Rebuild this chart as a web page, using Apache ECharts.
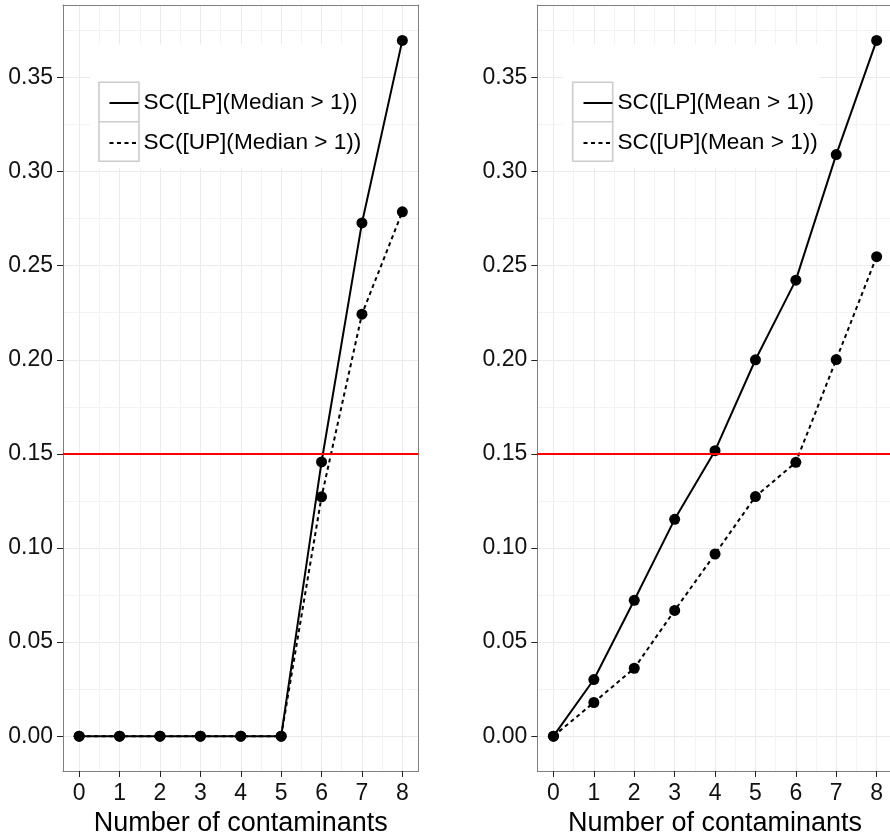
<!DOCTYPE html>
<html>
<head>
<meta charset="utf-8">
<script src="https://cdn.jsdelivr.net/npm/echarts@6/dist/echarts.min.js"></script>
<style>html,body{margin:0;padding:0;background:#fff;}#c{width:890px;height:838px;}</style>
</head>
<body>
<div id="c"></div>
<script>
// ---- data ----
var contaminants = [0, 1, 2, 3, 4, 5, 6, 7, 8];
var medianLP = [0, 0, 0, 0, 0, 0, 0.1457, 0.2727, 0.3697];
var medianUP = [0, 0, 0, 0, 0, 0, 0.1272, 0.2242, 0.2786];
var meanLP = [0, 0.0301, 0.0722, 0.1152, 0.1517, 0.2000, 0.2423, 0.3090, 0.3697];
var meanUP = [0, 0.0179, 0.0361, 0.0668, 0.0968, 0.1273, 0.1455, 0.2001, 0.2548];
var threshold = 0.15;
var seriesNames = {
  medianLP: 'SC([LP](Median > 1))',
  medianUP: 'SC([UP](Median > 1))',
  meanLP: 'SC([LP](Mean > 1))',
  meanUP: 'SC([UP](Mean > 1))'
};
var xTicks = [0, 1, 2, 3, 4, 5, 6, 7, 8];
var xMinorTicks = [0.5, 1.5, 2.5, 3.5, 4.5, 5.5, 6.5, 7.5];
var yTicks = [0, 0.05, 0.10, 0.15, 0.20, 0.25, 0.30, 0.35];
var yMinorTicks = [0.025, 0.075, 0.125, 0.175, 0.225, 0.275, 0.325, 0.375];
var xTitle = 'Number of contaminants';

// ---- layout / style ----
var FONT = '"Liberation Sans", Arial, Helvetica, sans-serif';
var X_MIN = -0.4, X_MAX = 8.4, Y_MIN = -0.0185, Y_MAX = 0.3885;
var BORDER = '#7f7f7f';
var MAJOR = '#ebebeb';
var MINOR = '#f3f3f3';

function pairs(ys) { return contaminants.map(function (x, i) { return [x, ys[i]]; }); }

function mainX(gi) {
  return {
    type: 'value', gridIndex: gi, min: X_MIN, max: X_MAX, position: 'bottom',
    name: xTitle, nameLocation: 'middle', nameGap: 31,
    nameTextStyle: { fontSize: 27, color: '#000', fontFamily: FONT },
    axisLine: { show: true, onZero: false, lineStyle: { color: BORDER, width: 1 } },
    axisTick: { show: true, customValues: xTicks, length: 6, lineStyle: { color: '#222', width: 1 } },
    axisLabel: { show: true, customValues: xTicks, margin: 11, fontSize: 23, color: '#111', fontFamily: FONT },
    splitLine: { show: true, lineStyle: { color: MAJOR, width: 1 } }
  };
}
function minorX(gi) {
  return {
    type: 'value', gridIndex: gi, min: X_MIN, max: X_MAX, position: 'top',
    axisLine: { show: true, onZero: false, lineStyle: { color: BORDER, width: 1 } },
    axisTick: { show: false, customValues: xMinorTicks },
    axisLabel: { show: false, customValues: xMinorTicks },
    splitLine: { show: true, lineStyle: { color: MINOR, width: 1 } }
  };
}
function mainY(gi) {
  return {
    type: 'value', gridIndex: gi, min: Y_MIN, max: Y_MAX, position: 'left',
    axisLine: { show: true, onZero: false, lineStyle: { color: BORDER, width: 1 } },
    axisTick: { show: true, customValues: yTicks, length: 6, lineStyle: { color: '#222', width: 1 } },
    axisLabel: { show: true, customValues: yTicks, margin: 10, fontSize: 23, color: '#111', fontFamily: FONT,
      formatter: function (v) { return Number(v).toFixed(2); } },
    splitLine: { show: true, lineStyle: { color: MAJOR, width: 1 } }
  };
}
function minorY(gi) {
  return {
    type: 'value', gridIndex: gi, min: Y_MIN, max: Y_MAX, position: 'right',
    axisLine: { show: true, onZero: false, lineStyle: { color: BORDER, width: 1 } },
    axisTick: { show: false, customValues: yMinorTicks },
    axisLabel: { show: false, customValues: yMinorTicks },
    splitLine: { show: true, lineStyle: { color: MINOR, width: 1 } }
  };
}
function lineSeries(name, ys, xi, yi, dashed, withThreshold) {
  var s = {
    type: 'line', name: name, xAxisIndex: xi, yAxisIndex: yi, data: pairs(ys),
    symbol: 'circle', symbolSize: 11, showSymbol: true, z: 3,
    itemStyle: { color: '#000' },
    lineStyle: { color: '#000', width: 2, type: dashed ? [4, 3.5] : 'solid' },
    emphasis: { disabled: true }, animation: false
  };
  if (withThreshold) {
    s.markLine = {
      silent: true, symbol: 'none', animation: false,
      label: { show: false },
      lineStyle: { color: '#ff0000', width: 2, type: 'solid' },
      data: [{ yAxis: threshold }]
    };
  }
  return s;
}
function legendBox(x, y) {
  return [
    { type: 'rect', z: 1, silent: true, shape: { x: x, y: y, width: 40, height: 39.5 },
      style: { fill: '#fff', stroke: '#cccccc', lineWidth: 1.6 } },
    { type: 'rect', z: 1, silent: true, shape: { x: x, y: y + 39.5, width: 40, height: 39.5 },
      style: { fill: '#fff', stroke: '#cccccc', lineWidth: 1.6 } }
  ];
}
function legendDef(left, names) {
  return {
    orient: 'vertical', left: left, top: 82, itemWidth: 29, itemHeight: 40, itemGap: 8,
    data: names, selectedMode: false,
    itemStyle: { opacity: 0 },
    textStyle: { fontSize: 22.6, color: '#000', fontFamily: FONT }
  };
}

var option = {
  backgroundColor: '#fff',
  animation: false,
  grid: [
    { left: 63, top: 5, width: 355.5, height: 766, show: false, containLabel: false, outerBoundsMode: 'none' },
    { left: 537.3, top: 5, width: 355.5, height: 766, show: false, containLabel: false, outerBoundsMode: 'none' }
  ],
  xAxis: [mainX(0), minorX(0), mainX(1), minorX(1)],
  yAxis: [mainY(0), minorY(0), mainY(1), minorY(1)],
  legend: [
    legendDef(103, [seriesNames.medianLP, seriesNames.medianUP]),
    legendDef(577, [seriesNames.meanLP, seriesNames.meanUP])
  ],
  graphic: [
    { type: 'rect', z: 1, silent: true, shape: { x: 90, y: 44, width: 272, height: 124 }, style: { fill: '#fff' } },
    { type: 'rect', z: 1, silent: true, shape: { x: 562.7, y: 44, width: 256.5, height: 124 }, style: { fill: '#fff' } }
  ].concat(legendBox(99, 82.3)).concat(legendBox(572.7, 82.3)),
  series: [
    lineSeries(seriesNames.medianLP, medianLP, 0, 0, false, true),
    lineSeries(seriesNames.medianUP, medianUP, 0, 0, true, false),
    lineSeries(seriesNames.meanLP, meanLP, 2, 2, false, true),
    lineSeries(seriesNames.meanUP, meanUP, 2, 2, true, false)
  ]
};
var chart = echarts.init(document.getElementById('c'), null, { renderer: 'canvas' });
chart.setOption(option);
</script>
</body>
</html>
